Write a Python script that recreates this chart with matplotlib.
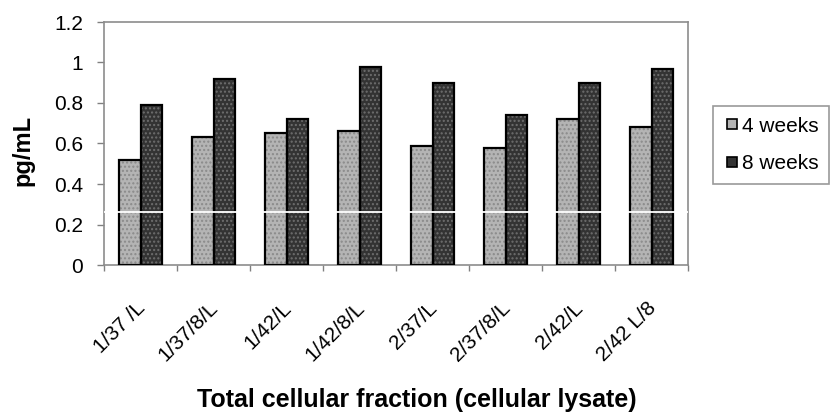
import matplotlib
matplotlib.use("Agg")
import matplotlib.pyplot as plt
import matplotlib.transforms as mtrans
import numpy as np
from matplotlib.lines import Line2D

categories = ["1/37 /L", "1/37/8/L", "1/42/L", "1/42/8/L", "2/37/L", "2/37/8/L", "2/42/L", "2/42 L/8"]
weeks4 = [0.52, 0.63, 0.65, 0.66, 0.59, 0.58, 0.72, 0.68]
weeks8 = [0.79, 0.92, 0.72, 0.98, 0.90, 0.74, 0.90, 0.97]
series_names = ["4 weeks", "8 weeks"]
yticks = [0, 0.2, 0.4, 0.6, 0.8, 1.0, 1.2]
ytick_labels = ["0", "0.2", "0.4", "0.6", "0.8", "1", "1.2"]

plt.rcParams['font.family'] = ['Liberation Sans', 'DejaVu Sans']
plt.rcParams['hatch.linewidth'] = 1.0

fig = plt.figure(figsize=(8.3, 4.19), dpi=100)
ax = fig.add_axes([104/830, 1-265/419, (688-104)/830, (265-22)/419])

x = np.arange(len(categories))
w = 0.29
face = ["#b4b4b4", "#333333"]
hatchc = ["#8a8a8a", "#6e6e6e"]
for i, (vals, off) in enumerate([(weeks4, -w/2), (weeks8, w/2)]):
    ax.bar(x + off, vals, width=w, color=face[i], edgecolor=hatchc[i],
           hatch="....", linewidth=0, zorder=2)
    ax.bar(x + off, vals, width=w, fill=False, edgecolor="black",
           linewidth=1.6, zorder=3)

# faint white horizontal artifact line in the reference
ax.axhline(0.26, color="white", lw=1.3, zorder=6)

ax.set_xlim(-0.5, len(categories) - 0.5)
ax.set_ylim(0, 1.2)
ax.set_yticks(yticks)
ax.set_yticklabels(ytick_labels, fontsize=15)
ax.tick_params(axis='y', direction='out', length=5, width=1, color='#808080', pad=10)

ax.set_xticks(x)
ax.set_xticklabels(categories, rotation=45, ha='right', va='top',
                   rotation_mode='anchor', fontsize=15)
ax.tick_params(axis='x', which='major', length=0, pad=24)
shift = mtrans.ScaledTranslation(-5/100, 0, fig.dpi_scale_trans)
for lab in ax.get_xticklabels():
    lab.set_transform(lab.get_transform() + shift)
ax.set_xticks(np.arange(-0.5, len(categories), 1.0), minor=True)
ax.tick_params(axis='x', which='minor', direction='out', length=4, width=1, color='#808080')

for s in ax.spines.values():
    s.set_color('#8c8c8c')
    s.set_linewidth(1.2)

fig.text(23/830, 1-150/419, "pg/mL", rotation=90, ha='center', va='center',
         fontsize=17, fontweight='bold')
fig.text(417/830, 1-400/419, "Total cellular fraction (cellular lysate)",
         ha='center', va='center', fontsize=18, fontweight='bold')

handles = [
    Line2D([], [], linestyle='none', marker='s', markersize=7,
           markerfacecolor=face[0], markeredgecolor='black', markeredgewidth=1.2),
    Line2D([], [], linestyle='none', marker='s', markersize=7,
           markerfacecolor=face[1], markeredgecolor='black', markeredgewidth=1.2),
]
leg = fig.legend(handles, series_names, loc='center left',
                 bbox_to_anchor=(713/830, 1-145/419), fontsize=15,
                 frameon=True, fancybox=False, edgecolor='#808080',
                 handlelength=0.8, handletextpad=0.1,
                 borderpad=0.5, labelspacing=0.9, borderaxespad=0)
leg.get_frame().set_linewidth(1.2)

fig.savefig("out.png", dpi=100)
